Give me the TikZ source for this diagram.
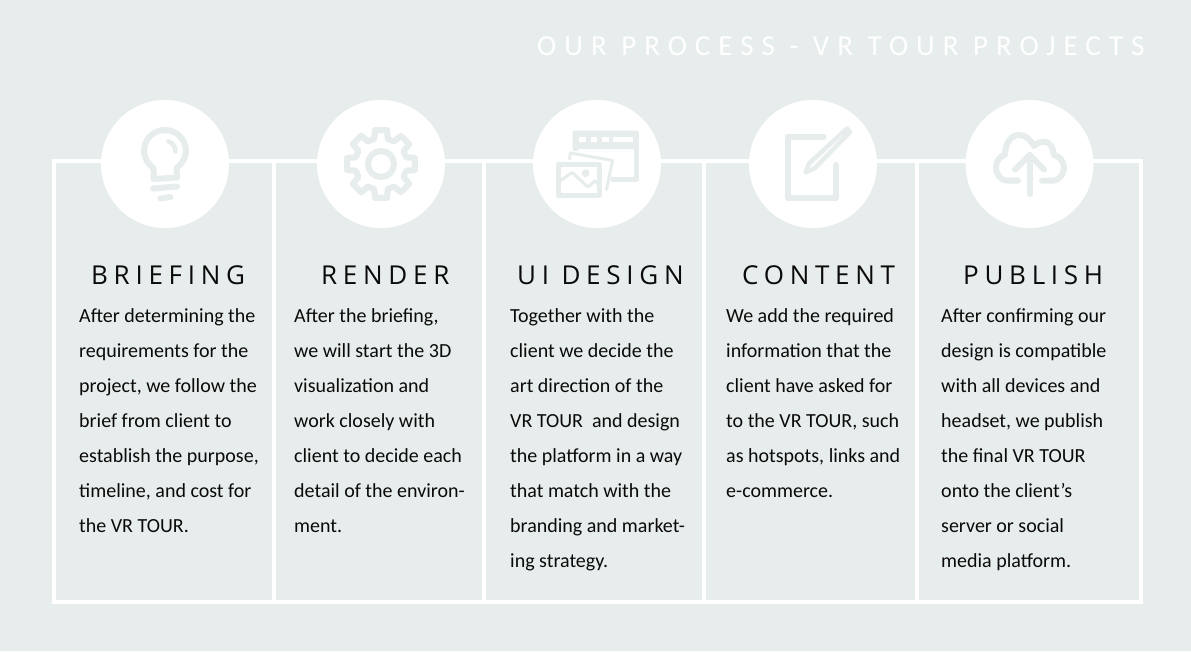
\documentclass[tikz,border=0pt]{standalone}
\usepackage{fontspec}
\setmainfont{Carlito}
\newfontfamily\titlefont[LetterSpace=27.6]{Carlito}
\newfontfamily\headfont[LetterSpace=22]{Open Sans}
\definecolor{bgcol}{HTML}{E7EDEC}
\definecolor{inkcol}{HTML}{0A0A0A}
\tikzset{
	frameline/.style={draw=white,line width=4pt},
	stepcircle/.style={circle,fill=white,inner sep=0pt,minimum size=128pt},
	steptitle/.style={anchor=base west,inner sep=0pt,text=inkcol,font=\headfont\fontsize{26}{30}\selectfont},
	steptext/.style={anchor=north west,inner sep=0pt,align=left,text=inkcol,font=\fontsize{20}{35}\selectfont},
	iconline/.style={draw=bgcol,line width=6pt,line cap=round,line join=round},
}

\begin{document}
\begin{tikzpicture}[x=1pt,y=-1pt]
\useasboundingbox (0,0) rectangle (1191,651);
\fill[bgcol] (0,0) rectangle (1191,651);

\node (title) [anchor=base west,inner sep=0pt,text=white,font=\titlefont\fontsize{29}{32}\selectfont] at (537,55) {OUR PROCESS - VR TOUR PROJECTS};

% frame
\coordinate (tl) at (54,161);
\coordinate (tr) at (1141,161);
\coordinate (br) at (1141,602);
\coordinate (bl) at (54,602);
\coordinate (top1) at (274,161);
\coordinate (top2) at (484,161);
\coordinate (top3) at (704,161);
\coordinate (top4) at (917,161);
\coordinate (bot1) at (274,602);
\coordinate (bot2) at (484,602);
\coordinate (bot3) at (704,602);
\coordinate (bot4) at (917,602);

\draw [frameline] (tl) -- (tr) -- (br) -- (bl) -- cycle;
\draw [frameline] (top1) -- (bot1);
\draw [frameline] (top2) -- (bot2);
\draw [frameline] (top3) -- (bot3);
\draw [frameline] (top4) -- (bot4);

\node (c1) [stepcircle] at (165,164) {};
\node (c2) [stepcircle] at (381,164) {};
\node (c3) [stepcircle] at (597,164) {};
\node (c4) [stepcircle] at (813,164) {};
\node (c5) [stepcircle] at (1029.5,164) {};

% bulb
\draw [iconline] (153.5,168) .. controls (148,164) and (144,158) .. (144,151) arc (180:360:21) .. controls (186,158) and (182,164) .. (176.5,168) -- (177,177.5) -- (153.5,179) -- cycle;
\draw [iconline,line width=4.5pt] (168.5,141.5) .. controls (173,143) and (175.5,147) .. (175.5,151.5);
\draw [iconline] (153,188.5) -- (177,186.5);
\draw [iconline] (160.5,198.5) -- (170.5,197);

% gear
\begin{scope}[shift={(381,164)}]
\draw [iconline] (0,0) circle (13);
\draw [iconline] (-10:34.5) \foreach \a in {0,45,...,315} { -- (\a-10:34.5) -- (\a+10:34.5) -- (\a+15:26) -- (\a+30:26) } -- cycle;
\end{scope}

% window and photos
\fill [bgcol,rounded corners=1pt] (572.7,130.7) rectangle (638.7,149);
\fill [white] (579.3,136.7) rectangle (586,142.3);
\fill [white] (590.7,136.7) rectangle (596.7,142.3);
\fill [white] (601.7,136.7) rectangle (609,142.3);
\fill [white] (613.3,136.7) rectangle (632.7,142.3);
\draw [iconline,line width=5pt,line cap=butt] (575.5,151) -- (575.5,133.5) -- (636,133.5) -- (636,179.7) -- (611,179.7);
\draw [iconline,line width=3pt] (569.5,159) -- (570.5,153) -- (612.5,160.5) -- (606.5,189.5);
\draw [iconline,line width=5pt] (558.5,164.2) rectangle (599.2,195.2);
\draw [iconline,line width=3pt,line cap=butt] (560,181) -- (572,172.5) -- (588,187) -- (595,181) -- (598,184);
\fill [bgcol] (585.7,173.3) circle (4);

% pencil
\draw [iconline] (823.5,136.5) -- (787.5,136.5) -- (787.5,198) -- (835.5,198) -- (835.5,165);
\draw [iconline,line width=4.5pt] (805.5,172.5) -- (809,163.5) -- (847,128.5) -- (850,132) -- (814.5,168.5) -- cycle;

% cloud
\draw [iconline] (1018,180.7) -- (1008,180.7) .. controls (1000,180.7) and (996,174) .. (996,167.3) .. controls (996,161) and (1000,156) .. (1005,155) .. controls (1005,143) and (1011,135) .. (1019,135) .. controls (1025,135) and (1030,139) .. (1034,146) .. controls (1037,143) and (1041,141.7) .. (1044,141.7) .. controls (1050,141.7) and (1054,148) .. (1053.5,155) .. controls (1059,156) and (1064,161) .. (1064,167.3) .. controls (1064,174) and (1059,180.7) .. (1053,180.7) -- (1042,180.7);
\draw [iconline] (1029.5,155) -- (1029.5,194);
\draw [iconline] (1015,169.5) -- (1029.5,155) -- (1044,169.5);

% headings
\node (h1) [steptitle] at (91,284) {BRIEFING};
\node (h2) [steptitle] at (321,284) {RENDER};
\node (h3) [steptitle] at (517,284) {UI DESIGN};
\node (h4) [steptitle] at (742,284) {CONTENT};
\node (h5) [steptitle] at (963,284) {PUBLISH};

% texts
\node (t1) [steptext] at (79,308.5) {After determining the\\requirements for the\\project, we follow the\\brief from client to\\establish the purpose,\\timeline, and cost for\\the VR TOUR.};
\node (t2) [steptext] at (294,308.5) {After the briefing,\\we will start the 3D\\visualization and\\work closely with\\client to decide each\\detail of the environ-\\ment.};
\node (t3) [steptext] at (510,308.5) {Together with the\\client we decide the\\art direction of the\\VR TOUR\ \ and design\\the platform in a way\\that match with the\\branding and market-\\ing strategy.};
\node (t4) [steptext] at (726,308.5) {We add the required\\information that the\\client have asked for\\to the VR TOUR, such\\as hotspots, links and\\e-commerce.};
\node (t5) [steptext] at (941,308.5) {After confirming our\\design is compatible\\with all devices and\\headset, we publish\\the final VR TOUR\\onto the client’s\\server or social\\media platform.};
\end{tikzpicture}
\end{document}
